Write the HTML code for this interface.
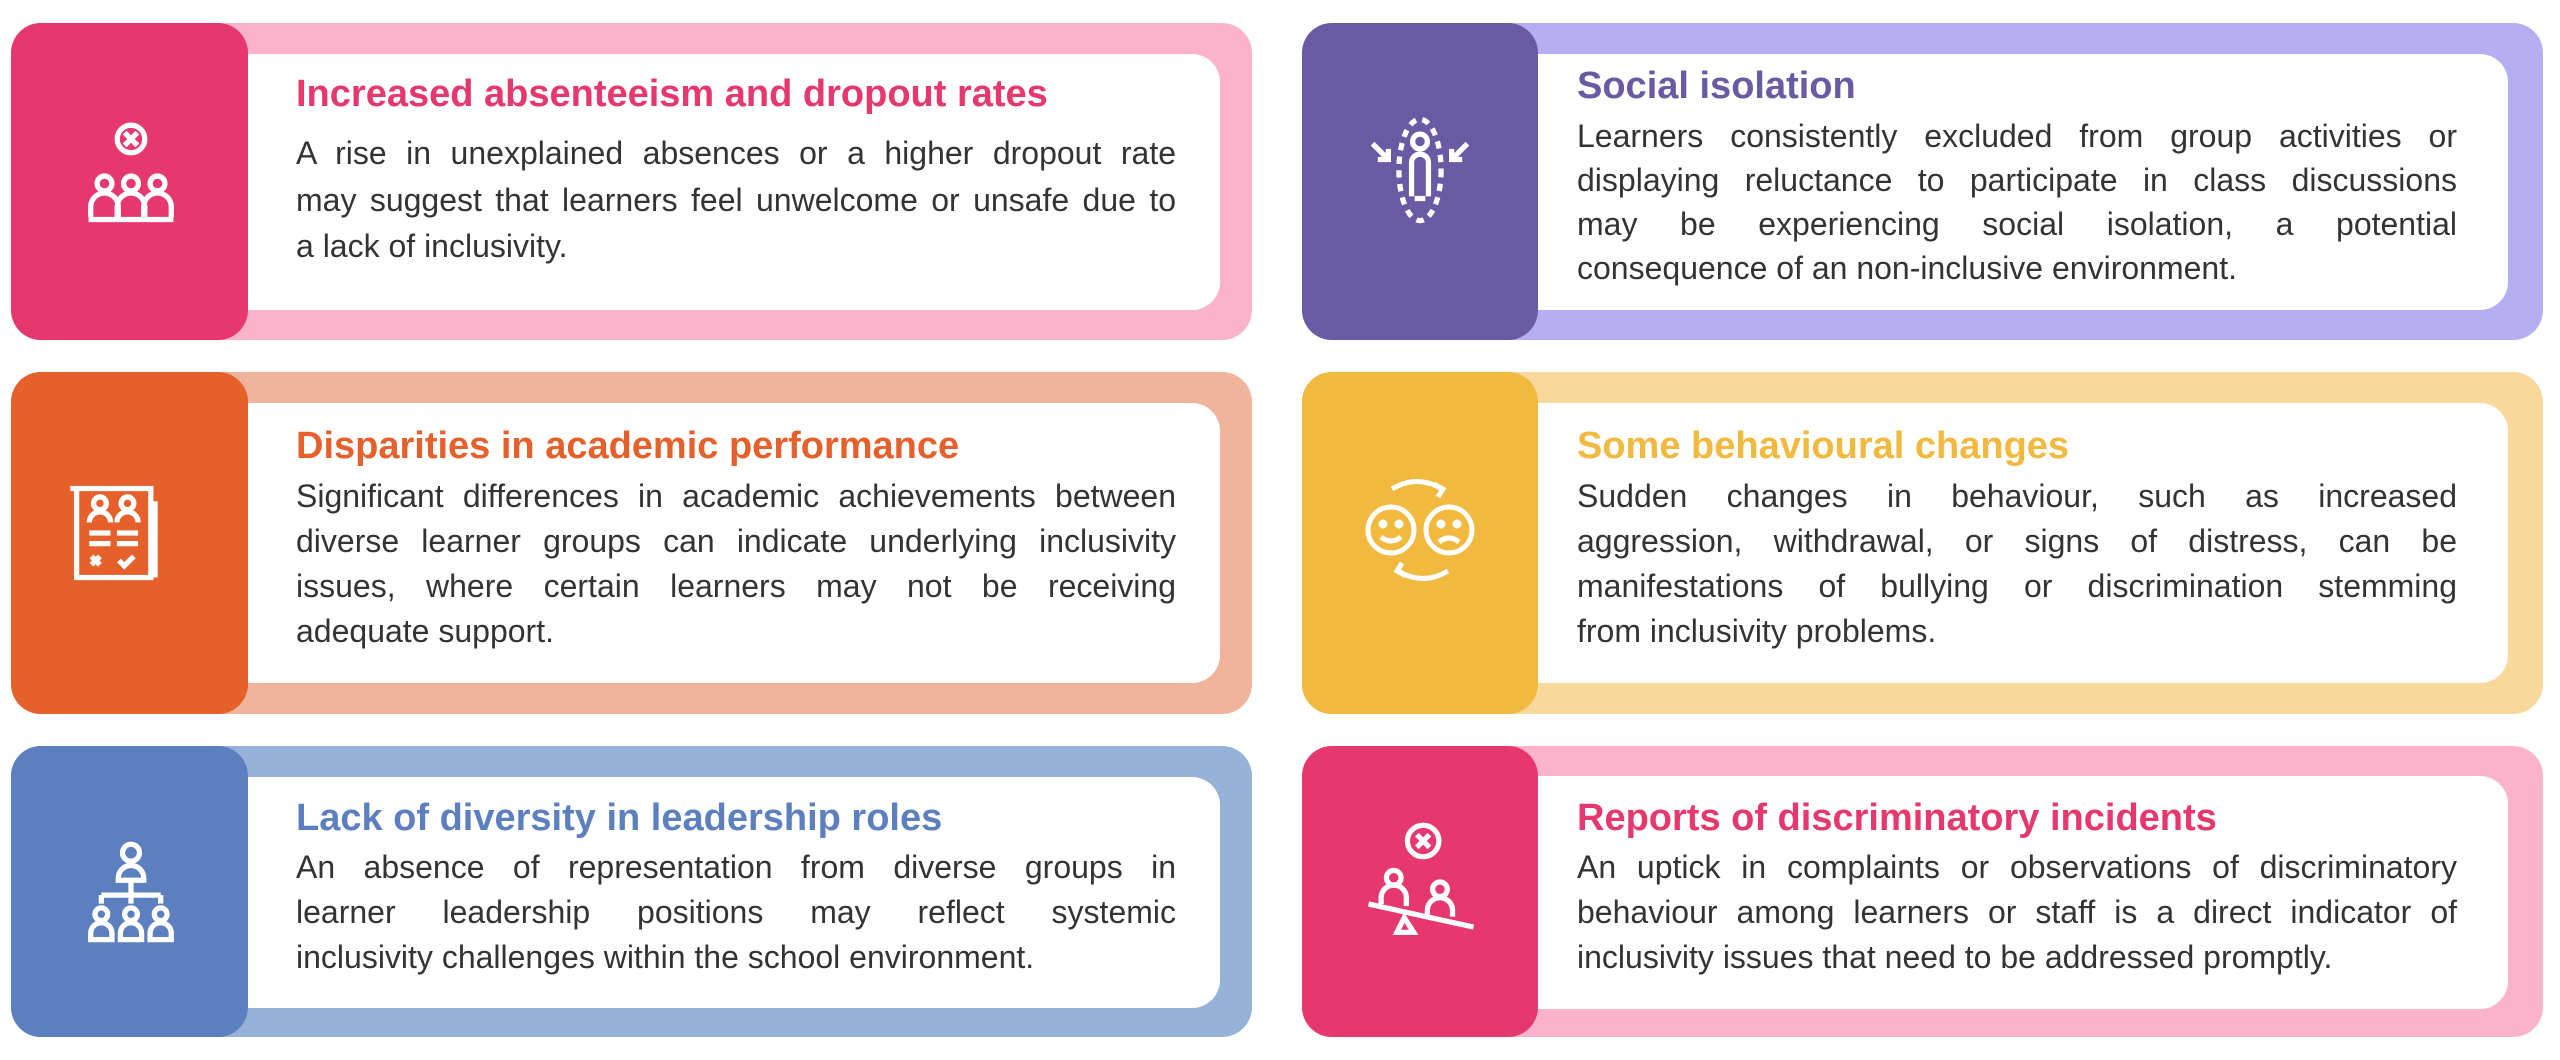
<!DOCTYPE html>
<html><head><meta charset="utf-8"><style>
*{margin:0;padding:0;box-sizing:border-box}
body{width:2560px;height:1060px;background:#fff;position:relative;overflow:hidden;font-family:"Liberation Sans",sans-serif}
.o{position:absolute;border-radius:30px}
.d{position:absolute;border-radius:30px}
.w{position:absolute;background:#fff;border-radius:0 28px 28px 0}
.t{position:absolute;font-weight:bold;font-size:38px;line-height:40px;white-space:nowrap}
.b{position:absolute;font-size:32px;color:#333;width:880px}
.b div{text-align:justify;text-align-last:justify;white-space:nowrap;height:45px;line-height:45px}
.b div.l{text-align-last:left}
svg{position:absolute}
</style></head><body>

<!-- Row 1 left -->
<div class="o" style="left:11px;top:23px;width:1241px;height:317px;background:#fbb3cc"></div>
<div class="d" style="left:11px;top:23px;width:237px;height:317px;background:#e6386e"></div>
<div class="w" style="left:248px;top:54px;width:972px;height:256px"></div>
<div class="t" style="left:296px;top:74px;color:#e6386e">Increased absenteeism and dropout rates</div>
<div class="b" style="left:296px;top:130px"><div style="height:47px;line-height:47px">A rise in unexplained absences or a higher dropout rate</div><div style="height:47px;line-height:47px">may suggest that learners feel unwelcome or unsafe due to</div><div class="l">a lack of inclusivity.</div></div>
<svg style="left:78px;top:122px" width="106" height="106" viewBox="0 0 100 100" fill="none" stroke="#fff" stroke-width="5"><circle cx="50" cy="16" r="13"/><path d="M44 10l12 12M56 10l-12 12"/><circle cx="25" cy="58" r="7"/><circle cx="50" cy="58" r="7"/><circle cx="75" cy="58" r="7"/><path d="M12 90v-10a13 13 0 0 1 26 0v10M37 90v-10a13 13 0 0 1 26 0v10M62 90v-10a13 13 0 0 1 26 0v10M10 92h80"/></svg>

<!-- Row 1 right -->
<div class="o" style="left:1302px;top:23px;width:1241px;height:317px;background:#b5aef0"></div>
<div class="d" style="left:1302px;top:23px;width:236px;height:317px;background:#6a5aa3"></div>
<div class="w" style="left:1538px;top:54px;width:970px;height:256px"></div>
<div class="t" style="left:1577px;top:66px;color:#6a5aa3">Social isolation</div>
<div class="b" style="left:1577px;top:114px"><div style="height:44px;line-height:44px">Learners consistently excluded from group activities or</div><div style="height:44px;line-height:44px">displaying reluctance to participate in class discussions</div><div style="height:44px;line-height:44px">may be experiencing social isolation, a potential</div><div class="l" style="height:44px;line-height:44px">consequence of an non-inclusive environment.</div></div>
<svg style="left:1362px;top:112px" width="116" height="116" viewBox="0 0 110 110" fill="none" stroke="#fff" stroke-width="5"><ellipse cx="55" cy="55" rx="20" ry="48" stroke-dasharray="7 6"/><circle cx="55" cy="28" r="7"/><path d="M47 80V48a8 8 0 0 1 16 0v32M50 82h10"/><path d="M10 30l15 15M25 35v10h-10M100 30l-15 15M85 35v10h10"/></svg>

<!-- Row 2 left -->
<div class="o" style="left:11px;top:372px;width:1241px;height:342px;background:#f0b39c"></div>
<div class="d" style="left:11px;top:372px;width:237px;height:342px;background:#e5602a"></div>
<div class="w" style="left:248px;top:403px;width:972px;height:280px"></div>
<div class="t" style="left:296px;top:426px;color:#e5602a">Disparities in academic performance</div>
<div class="b" style="left:296px;top:474px"><div>Significant differences in academic achievements between</div><div>diverse learner groups can indicate underlying inclusivity</div><div>issues, where certain learners may not be receiving</div><div class="l">adequate support.</div></div>
<svg style="left:66px;top:480px" width="106" height="106" viewBox="0 0 100 100" fill="none" stroke="#fff" stroke-width="5"><path d="M10 8h70v84H10zM4 8h8M84 20v72"/><circle cx="32" cy="22" r="6"/><circle cx="58" cy="22" r="6"/><path d="M22 40a10 10 0 0 1 20 0M48 40a10 10 0 0 1 20 0M22 50h20M48 50h20M22 60h20M48 60h20M24 72l8 8M32 72l-8 8M50 76l5 5 9-9"/></svg>

<!-- Row 2 right -->
<div class="o" style="left:1302px;top:372px;width:1241px;height:342px;background:#f9d89c"></div>
<div class="d" style="left:1302px;top:372px;width:236px;height:342px;background:#f2b93f"></div>
<div class="w" style="left:1538px;top:403px;width:970px;height:280px"></div>
<div class="t" style="left:1577px;top:426px;color:#f2b93f">Some behavioural changes</div>
<div class="b" style="left:1577px;top:474px"><div>Sudden changes in behaviour, such as increased</div><div>aggression, withdrawal, or signs of distress, can be</div><div>manifestations of bullying or discrimination stemming</div><div class="l">from inclusivity problems.</div></div>
<svg style="left:1364px;top:474px" width="112" height="112" viewBox="0 0 112 112" fill="none" stroke="#fff" stroke-width="5"><circle cx="27" cy="56" r="23"/><circle cx="85" cy="56" r="23"/><path d="M17 63q10 8 20 0M75 68q10-8 20 0"/><circle cx="19" cy="50" r="2" fill="#fff"/><circle cx="35" cy="50" r="2" fill="#fff"/><circle cx="77" cy="50" r="2" fill="#fff"/><circle cx="93" cy="50" r="2" fill="#fff"/><path d="M28 15q25-15 50 0M70 10l9 5-5 8M84 97q-25 15-50 0M42 102l-9-5 5-8"/></svg>

<!-- Row 3 left -->
<div class="o" style="left:11px;top:746px;width:1241px;height:291px;background:#96b2d8"></div>
<div class="d" style="left:11px;top:746px;width:237px;height:291px;background:#5b7fbf"></div>
<div class="w" style="left:248px;top:777px;width:972px;height:231px"></div>
<div class="t" style="left:296px;top:798px;color:#5b7fbf">Lack of diversity in leadership roles</div>
<div class="b" style="left:296px;top:845px"><div>An absence of representation from diverse groups in</div><div>learner leadership positions may reflect systemic</div><div class="l">inclusivity challenges within the school environment.</div></div>
<svg style="left:78px;top:840px" width="106" height="106" viewBox="0 0 100 100" fill="none" stroke="#fff" stroke-width="5"><circle cx="50" cy="12" r="8"/><path d="M38 36a12 12 0 0 1 24 0v2H38zM50 38v14M22 52h56M22 52v8M50 52v8M78 52v8"/><circle cx="22" cy="70" r="6"/><circle cx="50" cy="70" r="6"/><circle cx="78" cy="70" r="6"/><path d="M12 94v-6a10 10 0 0 1 20 0v6zM40 94v-6a10 10 0 0 1 20 0v6zM68 94v-6a10 10 0 0 1 20 0v6z"/></svg>

<!-- Row 3 right -->
<div class="o" style="left:1302px;top:746px;width:1241px;height:291px;background:#fbb3cc"></div>
<div class="d" style="left:1302px;top:746px;width:236px;height:291px;background:#e6386e"></div>
<div class="w" style="left:1538px;top:776px;width:970px;height:233px"></div>
<div class="t" style="left:1577px;top:798px;color:#e6386e">Reports of discriminatory incidents</div>
<div class="b" style="left:1577px;top:845px"><div>An uptick in complaints or observations of discriminatory</div><div>behaviour among learners or staff is a direct indicator of</div><div class="l">inclusivity issues that need to be addressed promptly.</div></div>
<svg style="left:1362px;top:820px" width="116" height="126" viewBox="0 0 110 120" fill="none" stroke="#fff" stroke-width="5"><circle cx="58" cy="20" r="15"/><path d="M52 14l12 12M64 14l-12 12"/><circle cx="30" cy="55" r="7"/><circle cx="74" cy="66" r="7"/><path d="M18 80v-6a12 12 0 0 1 24 0v8M62 90v-4a12 12 0 0 1 24 0v6M6 80l100 22M40 93l-7 14h16z"/></svg>

</body></html>
